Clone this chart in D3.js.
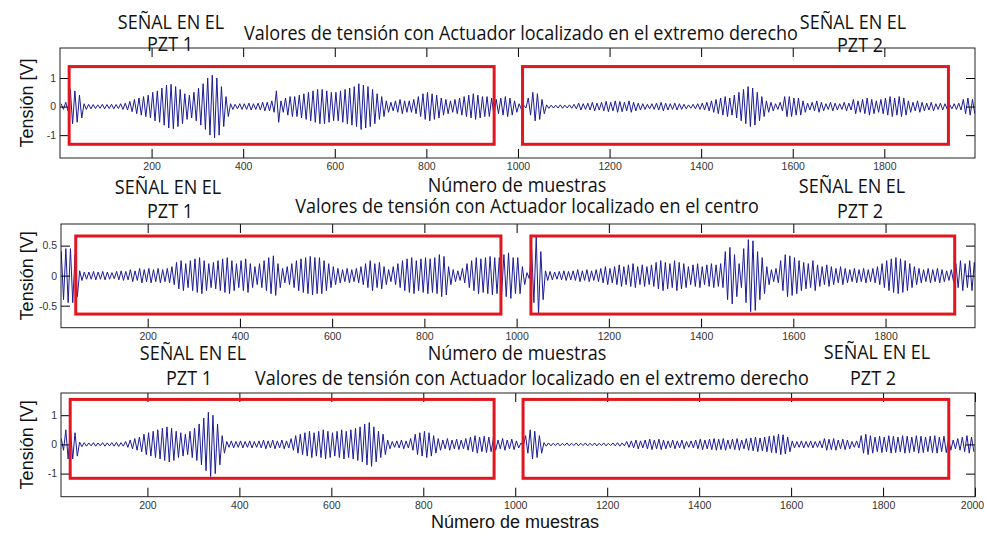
<!DOCTYPE html>
<html>
<head>
<meta charset="utf-8">
<script src="https://cdn.jsdelivr.net/npm/d3@7"></script>
<style>
  body { margin: 0; background: #fff; }
  svg { display: block; }
  .tick text { font-family: "Liberation Sans", Arial, sans-serif; font-size: 10.5px; fill: #333; }
  .domain { display: none; }
</style>
</head>
<body>
<div id="chart"></div>
<script>
const sampleStep = 10;

const ampRight1 = [
  0.1,0.15,0.6,0.55,0.4,0.1,0.08,0.07,0.06,0.08,
  0.07,0.08,0.07,0.1,0.12,0.18,0.25,0.3,0.35,0.4,
  0.5,0.55,0.65,0.75,0.78,0.7,0.6,0.45,0.4,0.5,
  0.65,0.8,1.0,1.1,1.0,0.7,0.35,0.1,0.08,0.1,
  0.1,0.12,0.1,0.12,0.15,0.15,0.2,0.55,0.2,0.3,
  0.35,0.35,0.4,0.45,0.5,0.55,0.6,0.6,0.55,0.5,
  0.5,0.55,0.6,0.65,0.7,0.8,0.75,0.7,0.6,0.45,
  0.35,0.2,0.15,0.2,0.25,0.2,0.2,0.25,0.35,0.45,
  0.5,0.45,0.4,0.3,0.25,0.2,0.25,0.3,0.35,0.4,
  0.45,0.4,0.35,0.35,0.3,0.25,0.3,0.35,0.3,0.2,
  0.1,0.05,0.3,0.5,0.45,0.25,0.06,0.05,0.05,0.06,
  0.05,0.06,0.08,0.12,0.1,0.12,0.15,0.12,0.15,0.18,
  0.15,0.2,0.18,0.15,0.2,0.15,0.12,0.1,0.08,0.1,
  0.12,0.15,0.12,0.1,0.12,0.1,0.08,0.06,0.08,0.1,
  0.12,0.15,0.2,0.25,0.3,0.35,0.3,0.4,0.5,0.6,
  0.7,0.65,0.5,0.35,0.2,0.15,0.1,0.15,0.35,0.35,
  0.3,0.3,0.2,0.12,0.15,0.2,0.15,0.1,0.15,0.12,
  0.1,0.15,0.12,0.25,0.2,0.25,0.3,0.25,0.2,0.25,
  0.3,0.35,0.3,0.35,0.3,0.2,0.15,0.2,0.15,0.12,
  0.15,0.1,0.12,0.1,0.08,0.1,0.12,0.25,0.3,0.25
];

const ampCentre = [
  0.3,0.4,0.45,0.45,0.35,0.08,0.06,0.06,0.07,0.06,
  0.07,0.06,0.05,0.07,0.08,0.07,0.1,0.08,0.12,0.1,
  0.12,0.1,0.12,0.1,0.12,0.15,0.22,0.25,0.2,0.25,
  0.28,0.3,0.25,0.2,0.22,0.25,0.28,0.3,0.25,0.2,
  0.25,0.28,0.2,0.15,0.2,0.25,0.3,0.33,0.2,0.12,
  0.15,0.2,0.25,0.28,0.3,0.32,0.3,0.3,0.25,0.2,
  0.15,0.12,0.1,0.12,0.1,0.12,0.15,0.2,0.25,0.2,
  0.22,0.15,0.1,0.15,0.2,0.25,0.28,0.3,0.25,0.28,
  0.3,0.28,0.3,0.35,0.32,0.15,0.1,0.08,0.12,0.2,
  0.25,0.3,0.28,0.3,0.32,0.3,0.3,0.35,0.38,0.3,
  0.3,0.15,0.05,0.45,0.65,0.4,0.08,0.07,0.06,0.07,
  0.08,0.07,0.08,0.1,0.08,0.1,0.08,0.1,0.12,0.15,
  0.12,0.15,0.18,0.15,0.18,0.2,0.15,0.18,0.15,0.18,
  0.22,0.25,0.22,0.2,0.25,0.22,0.2,0.15,0.18,0.2,
  0.15,0.18,0.2,0.18,0.2,0.4,0.47,0.35,0.2,0.45,
  0.6,0.58,0.4,0.3,0.15,0.1,0.12,0.25,0.35,0.33,
  0.3,0.25,0.22,0.2,0.25,0.18,0.15,0.18,0.15,0.12,
  0.15,0.12,0.1,0.12,0.1,0.12,0.1,0.12,0.15,0.2,
  0.25,0.28,0.3,0.28,0.25,0.2,0.15,0.12,0.1,0.12,
  0.1,0.12,0.1,0.08,0.1,0.2,0.25,0.2,0.25,0.22
];

const ampRight2 = [
  0.15,0.2,0.5,0.5,0.4,0.08,0.06,0.05,0.06,0.05,
  0.06,0.05,0.06,0.07,0.06,0.1,0.15,0.2,0.25,0.35,
  0.4,0.45,0.5,0.55,0.6,0.55,0.45,0.4,0.35,0.45,
  0.55,0.7,0.9,1.1,1.0,0.7,0.3,0.1,0.12,0.1,
  0.12,0.1,0.12,0.1,0.12,0.15,0.12,0.15,0.12,0.15,
  0.12,0.2,0.3,0.35,0.4,0.45,0.4,0.45,0.5,0.45,
  0.4,0.45,0.5,0.45,0.5,0.55,0.6,0.7,0.75,0.6,
  0.45,0.35,0.15,0.1,0.12,0.15,0.12,0.2,0.35,0.4,
  0.45,0.4,0.3,0.2,0.15,0.2,0.15,0.18,0.15,0.2,
  0.25,0.3,0.25,0.28,0.25,0.2,0.15,0.2,0.15,0.18,
  0.12,0.05,0.3,0.5,0.45,0.3,0.06,0.05,0.04,0.05,
  0.04,0.05,0.04,0.05,0.04,0.05,0.04,0.05,0.04,0.05,
  0.04,0.05,0.06,0.05,0.1,0.12,0.15,0.12,0.15,0.18,
  0.15,0.18,0.15,0.12,0.15,0.12,0.15,0.1,0.12,0.15,
  0.18,0.15,0.18,0.2,0.18,0.2,0.15,0.18,0.2,0.15,
  0.2,0.22,0.25,0.22,0.25,0.28,0.3,0.35,0.33,0.25,
  0.12,0.1,0.12,0.1,0.12,0.1,0.12,0.2,0.18,0.2,
  0.15,0.18,0.15,0.1,0.12,0.3,0.35,0.3,0.25,0.28,
  0.25,0.3,0.28,0.25,0.3,0.28,0.25,0.3,0.28,0.25,
  0.28,0.3,0.25,0.28,0.2,0.15,0.2,0.25,0.3,0.25
];

const xTicks = [200, 400, 600, 800, 1000, 1200, 1400, 1600, 1800];
const xTicksLast = [200, 400, 600, 800, 1000, 1200, 1400, 1600, 1800, 2000];
const yTicksWide = [-1, 0, 1];
const yTicksNarrow = [-0.5, 0, 0.5];

const titleRight = "Valores de tensión con Actuador localizado en el extremo derecho";
const titleCentre = "Valores de tensión con Actuador localizado en el centro";
const xLabel = "Número de muestras";
const yLabel = "Tensión [V]";

// red boxes in data units: [startSample, endSample, low, high]
const boxesRight1 = [[20, 948, -1.32, 1.40], [1010, 1940, -1.32, 1.40]];
const boxesCentre = [[44, 966, -0.64, 0.66], [1031, 1950, -0.64, 0.66]];
const boxesRight2 = [[32, 954, -1.16, 1.54], [1017, 1943, -1.16, 1.54]];

const width = 986, height = 533;

const panels = [
  { amp: ampRight1, xDom: [0, 1998], yDom: [-1.8, 2.05], xTicks: xTicks, yTicks: yTicksWide,
    boxes: boxesRight1, left: 60, right: 975, top: 48, bottom: 158 },
  { amp: ampCentre, xDom: [12, 1994], yDom: [-0.867, 0.86], xTicks: xTicks, yTicks: yTicksNarrow,
    boxes: boxesCentre, left: 61, right: 975, top: 224, bottom: 327.7 },
  { amp: ampRight2, xDom: [12, 2000], yDom: [-1.79, 1.76], xTicks: xTicksLast, yTicks: yTicksWide,
    boxes: boxesRight2, left: 61, right: 975, top: 393, bottom: 496.7 }
];

// free-standing labels (Calibri-like in the original)
const notes = [
  { t: "SEÑAL EN EL", x: 171, y: 29 }, { t: "PZT 1", x: 170, y: 51 },
  { t: titleRight, x: 521, y: 40 },
  { t: "SEÑAL EN EL", x: 853, y: 29 }, { t: "PZT 2", x: 860, y: 52 },
  { t: xLabel, x: 517, y: 192 },
  { t: "SEÑAL EN EL", x: 168, y: 194 }, { t: "PZT 1", x: 170, y: 218 },
  { t: titleCentre, x: 527, y: 213 },
  { t: "SEÑAL EN EL", x: 852, y: 193 }, { t: "PZT 2", x: 860, y: 218 },
  { t: xLabel, x: 517, y: 360 },
  { t: "SEÑAL EN EL", x: 193, y: 360 }, { t: "PZT 1", x: 189, y: 385 },
  { t: titleRight, x: 532, y: 385 },
  { t: "SEÑAL EN EL", x: 877, y: 359 }, { t: "PZT 2", x: 873, y: 385 }
];

const svg = d3.select("#chart").append("svg")
  .attr("width", width)
  .attr("height", height);

const line = d3.line();
const fmtY = d => String(d);

panels.forEach((p, k) => {
  const x = d3.scaleLinear().domain(p.xDom).range([p.left, p.right]);
  const y = d3.scaleLinear().domain(p.yDom).range([p.bottom, p.top]);

  const clipId = "clip" + k;
  svg.append("clipPath").attr("id", clipId)
    .append("rect")
    .attr("x", p.left).attr("y", p.top)
    .attr("width", p.right - p.left).attr("height", p.bottom - p.top);

  // each envelope value gives one up/down swing
  const pts = [];
  p.amp.forEach((a, i) => {
    const s = i * sampleStep;
    pts.push([x(s + 2.5), y(a)]);
    pts.push([x(s + 7.5), y(-a)]);
  });

  svg.append("path")
    .attr("clip-path", `url(#${clipId})`)
    .attr("d", line(pts))
    .attr("fill", "none")
    .attr("stroke", "#1c1c96")
    .attr("stroke-width", 1);

  const tick = 9;
  const bottomAxis = svg.append("g")
    .attr("transform", `translate(0,${p.bottom})`)
    .call(d3.axisBottom(x).tickValues(p.xTicks).tickSizeInner(-tick).tickSizeOuter(0)
      .tickPadding(5).tickFormat(d3.format("d")));
  bottomAxis.selectAll(".tick line").attr("stroke", "#000");
  // keep the last label (2000) inside the picture
  bottomAxis.selectAll(".tick text").filter(d => d === 2000).attr("dx", -3);

  svg.append("g")
    .attr("transform", `translate(0,${p.top})`)
    .call(d3.axisTop(x).tickValues(p.xTicks).tickSizeInner(-tick).tickSizeOuter(0).tickFormat(""))
    .selectAll(".tick line").attr("stroke", "#000");
  svg.append("g")
    .attr("transform", `translate(${p.left},0)`)
    .call(d3.axisLeft(y).tickValues(p.yTicks).tickSizeInner(-tick).tickSizeOuter(0)
      .tickPadding(4).tickFormat(fmtY))
    .selectAll(".tick line").attr("stroke", "#000");
  svg.append("g")
    .attr("transform", `translate(${p.right},0)`)
    .call(d3.axisRight(y).tickValues(p.yTicks).tickSizeInner(-tick).tickSizeOuter(0).tickFormat(""))
    .selectAll(".tick line").attr("stroke", "#000");

  svg.append("rect")
    .attr("x", p.left).attr("y", p.top)
    .attr("width", p.right - p.left).attr("height", p.bottom - p.top)
    .attr("fill", "none")
    .attr("stroke", "#222")
    .attr("stroke-width", 1);

  svg.selectAll(null)
    .data(p.boxes)
    .enter()
    .append("rect")
    .attr("x", d => x(d[0]))
    .attr("y", d => y(d[3]))
    .attr("width", d => x(d[1]) - x(d[0]))
    .attr("height", d => y(d[2]) - y(d[3]))
    .attr("fill", "none")
    .attr("stroke", "#e2161f")
    .attr("stroke-width", 3);

  svg.append("text")
    .attr("transform", `translate(33,${(p.top + p.bottom) / 2}) rotate(-90)`)
    .attr("text-anchor", "middle")
    .style("font-family", "'Liberation Sans', Arial, sans-serif")
    .style("font-size", "18px")
    .attr("fill", "#111")
    .text(yLabel);
});

svg.selectAll("text.note")
  .data(notes)
  .enter()
  .append("text")
  .classed("note", true)
  .attr("transform", d => `translate(${d.x},${d.y}) scale(0.9,1)`)
  .attr("text-anchor", "middle")
  .style("font-family", "'Open Sans', sans-serif")
  .style("font-size", "20px")
  .attr("fill", "#111")
  .text(d => d.t);

svg.append("text")
  .attr("x", 515)
  .attr("y", 528)
  .attr("text-anchor", "middle")
  .style("font-family", "'Liberation Sans', Arial, sans-serif")
  .style("font-size", "18px")
  .attr("fill", "#111")
  .text(xLabel);
</script>
</body>
</html>
